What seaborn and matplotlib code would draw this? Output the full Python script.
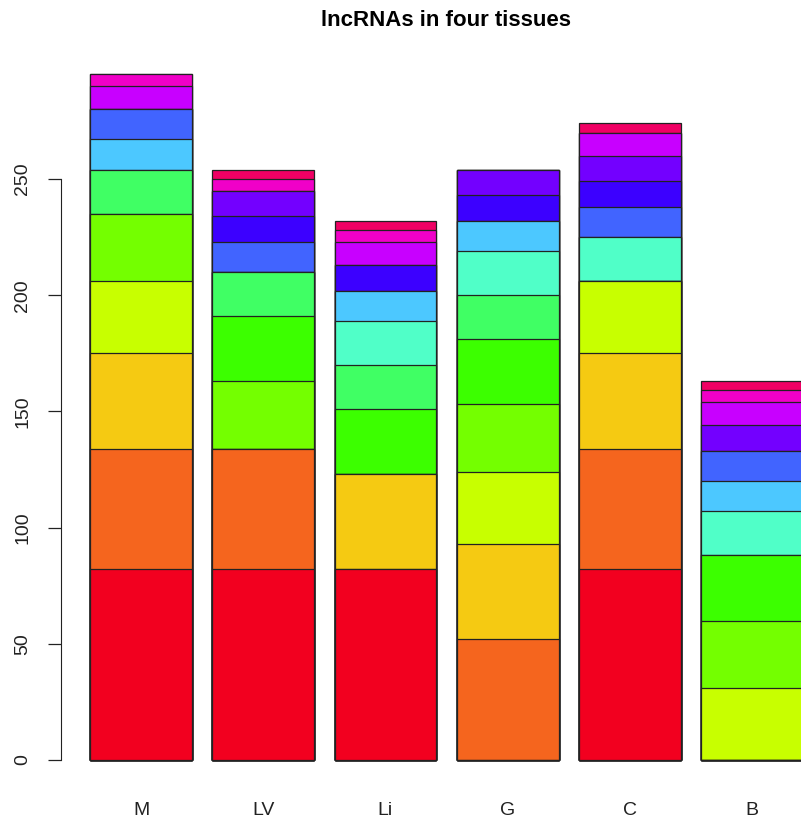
import numpy as np
import pandas as pd
import seaborn as sns
import matplotlib.pyplot as plt

tissues = ['M', 'LV', 'Li', 'G', 'C', 'B']
# size of each lncRNA group, bottom to top
group_sizes = [82, 52, 41, 31, 29, 28, 19, 19, 13, 13, 11, 11, 10, 5, 4]
group_colors = ['#F2001F', '#F5651E', '#F5CA12', '#C8FF00', '#74FF00',
                '#3CFF00', '#40FF64', '#50FFC8', '#4CC8FF', '#4164FF',
                '#3C00FF', '#7300FF', '#C800FF', '#F000C8', '#F00064']
# which groups are present in each tissue (1 = present)
present = {
    'M':  [1, 1, 1, 1, 1, 0, 1, 0, 1, 1, 0, 0, 1, 1, 0],
    'LV': [1, 1, 0, 0, 1, 1, 1, 0, 0, 1, 1, 1, 0, 1, 1],
    'Li': [1, 0, 1, 0, 0, 1, 1, 1, 1, 0, 1, 0, 1, 1, 1],
    'G':  [0, 1, 1, 1, 1, 1, 1, 1, 1, 0, 1, 1, 0, 0, 0],
    'C':  [1, 1, 1, 1, 0, 0, 0, 1, 0, 1, 1, 1, 1, 0, 1],
    'B':  [0, 0, 0, 1, 1, 1, 0, 1, 1, 1, 0, 1, 1, 1, 1],
}

sns.set_style('white')
plt.rcParams['font.family'] = ['Liberation Sans', 'DejaVu Sans']

values = np.array([[s * p for s, p in zip(group_sizes, present[t])] for t in tissues])
cum = np.cumsum(values, axis=1)

fig = plt.figure(figsize=(8.01, 8.25), dpi=100)
ax = fig.add_axes([61 / 801, (825 - 770) / 825, 740 / 801, 710 / 825])

# draw cumulative bars from top group down so lower groups sit on top
for k in range(len(group_sizes) - 1, -1, -1):
    df = pd.DataFrame({'tissue': tissues, 'total': cum[:, k]})
    sns.barplot(data=df, x='tissue', y='total', order=tissues, color=group_colors[k],
                saturation=1, width=1 / 1.2, edgecolor='#222222', linewidth=0.9, ax=ax)

ax.set_xlim(-0.655, 5.401)
ax.set_ylim(-4.3, 301.2)
for s in ['top', 'right', 'bottom']:
    ax.spines[s].set_visible(False)
ax.spines['left'].set_bounds(0, 250)
ax.spines['left'].set_color('#222222')
ax.set_yticks([0, 50, 100, 150, 200, 250])
ax.set_yticklabels(['0', '50', '100', '150', '200', '250'], rotation=90, va='center',
                   fontsize=14, color='#222222')
ax.tick_params(axis='y', left=True, length=9.5, width=0.9, pad=12, color='#222222')
ax.tick_params(axis='x', length=0, pad=23, labelsize=14, labelcolor='#222222')
ax.set_xlabel('')
ax.set_ylabel('')
fig.text(446 / 801, 1 - 21 / 825, 'lncRNAs in four tissues', ha='center', va='center',
         fontsize=16, fontweight='bold', color='black')

fig.savefig('out.png', dpi=100)
plt.close(fig)
